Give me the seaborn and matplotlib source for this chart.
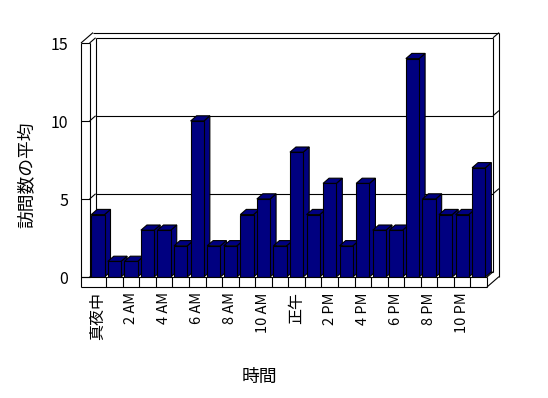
import matplotlib
matplotlib.use("Agg")
import matplotlib.pyplot as plt
from matplotlib.patches import Polygon
import seaborn as sns
import pandas as pd

# ---- data ----
hours = ["真夜中", "1 AM", "2 AM", "3 AM", "4 AM", "5 AM", "6 AM", "7 AM", "8 AM", "9 AM",
         "10 AM", "11 AM", "正午", "1 PM", "2 PM", "3 PM", "4 PM", "5 PM", "6 PM", "7 PM",
         "8 PM", "9 PM", "10 PM", "11 PM"]
visits = [4, 1, 1, 3, 3, 2, 10, 2, 2, 4, 5, 2, 8, 4, 6, 2, 6, 3, 3, 14, 5, 4, 4, 7]
tick_labels = ["真夜中", "2 AM", "4 AM", "6 AM", "8 AM", "10 AM", "正午",
               "2 PM", "4 PM", "6 PM", "8 PM", "10 PM"]
y_ticks = [0, 5, 10, 15]
x_title = "時間"
y_title = "訪問数の平均"

sns.set_theme(style="white")
plt.rcParams['font.family'] = ['Noto Sans CJK JP', 'DejaVu Sans']

W, H = 548, 398
fig = plt.figure(figsize=(W / 100, H / 100), dpi=100)
fig.patch.set_facecolor("white")

# axes: front plane
left_px, right_px, top_px, bot_px = 89.6, 487.0, 43.0, 277.0
ax = fig.add_axes([left_px / W, 1 - bot_px / H, (right_px - left_px) / W, (bot_px - top_px) / H])
ax.set_facecolor("none")

df = pd.DataFrame({"hour": hours, "visits": visits})
NAVY = "#000080"
sns.barplot(data=df, x="hour", y="visits", order=hours, color=NAVY, saturation=1,
            width=0.8, edgecolor="black", linewidth=0.8, ax=ax, zorder=3)

ax.set_xlim(-0.5, len(hours) - 0.5)
ax.set_ylim(0, 15)

# depth offsets in data units
px_x = (right_px - left_px) / len(hours)
px_y = (bot_px - top_px) / 15.0
DX = 6.0 / px_x
DY = 5.2 / px_y
LW = 8.6 / px_x      # left wall thickness
FT = 10.0 / px_y     # floor thickness

lw = 0.8
# 3D faces for bars
for i, p in enumerate(ax.patches):
    x0, w, h = p.get_x(), p.get_width(), p.get_height()
    z = 3 + 0.01 * i
    p.set_zorder(z + 0.005)
    top = Polygon([(x0, h), (x0 + w, h), (x0 + w + DX, h + DY), (x0 + DX, h + DY)],
                  closed=True, facecolor=NAVY, edgecolor="black", linewidth=lw,
                  zorder=z, clip_on=False)
    side = Polygon([(x0 + w, 0), (x0 + w + DX, DY), (x0 + w + DX, h + DY), (x0 + w, h)],
                   closed=True, facecolor=NAVY, edgecolor="black", linewidth=lw,
                   zorder=z, clip_on=False)
    ax.add_patch(side)
    ax.add_patch(top)

x_lo, x_hi = -0.5, len(hours) - 0.5
ymax = 15


def seg(xs, ys, z=1):
    ax.plot(xs, ys, color="black", linewidth=lw, clip_on=False, zorder=z,
            solid_capstyle="butt")


# back wall gridlines and left wall tick diagonals
for v in y_ticks:
    if v > 0:
        seg([x_lo + DX, x_hi + DX], [v + DY, v + DY])
        seg([x_hi + DX, x_hi + 2 * DX], [v + DY, v + 2 * DY])
    seg([x_lo, x_lo + DX], [v, v + DY])
    seg([x_lo - LW, x_lo], [v, v])

# back wall outer top
seg([x_lo - LW + 2 * DX, x_hi + 2 * DX], [ymax + 2 * DY, ymax + 2 * DY])
seg([x_lo - LW, x_lo - LW + 2 * DX], [ymax, ymax + 2 * DY])
# verticals
seg([x_lo - LW, x_lo - LW], [-FT, ymax])
seg([x_lo, x_lo], [0, ymax])
seg([x_lo + DX, x_lo + DX], [DY, ymax + DY])
seg([x_hi + DX, x_hi + DX], [DY, ymax + DY])
seg([x_hi + 2 * DX, x_hi + 2 * DX], [-FT + 2 * DY, ymax + 2 * DY])
# floor
seg([x_lo + DX, x_hi + DX], [DY, DY])
seg([x_lo - LW, x_hi], [0, 0], z=5)
seg([x_lo - LW, x_hi], [-FT, -FT], z=5)
seg([x_hi, x_hi], [-FT, 0], z=5)
seg([x_hi, x_hi + DX], [0, DY], z=5)
seg([x_hi, x_hi + 2 * DX], [-FT, -FT + 2 * DY], z=5)
for k in range(1, len(hours)):
    seg([x_lo + k, x_lo + k], [-FT, 0], z=5)

# ticks and labels
for s in ax.spines.values():
    s.set_visible(False)
ax.set_yticks(y_ticks)
ax.set_yticklabels([str(v) for v in y_ticks])
ax.set_xticks(range(0, len(hours), 2))
ax.set_xticklabels(tick_labels, rotation=90, va="top", ha="center")
ax.tick_params(axis="y", length=0, pad=15.5, labelsize=11.5, colors="black")
ax.tick_params(axis="x", length=0, pad=11, labelsize=10.5, colors="black")
for t in ax.get_xticklabels():
    if not any(c.isascii() for c in t.get_text()):
        t.set_fontsize(11.5)
ax.grid(False)

ax.set_xlabel(x_title, fontsize=12.8, color="black")
ax.set_ylabel(y_title, fontsize=12.8, color="black")
ax.xaxis.set_label_coords((259 - left_px) / (right_px - left_px), (bot_px - 377) / (bot_px - top_px))
ax.xaxis.label.set_va("center")
ax.yaxis.set_label_coords((27 - left_px) / (right_px - left_px), (bot_px - 175) / (bot_px - top_px))
ax.yaxis.label.set_va("center")

fig.savefig("out.png", dpi=100, facecolor="white")
